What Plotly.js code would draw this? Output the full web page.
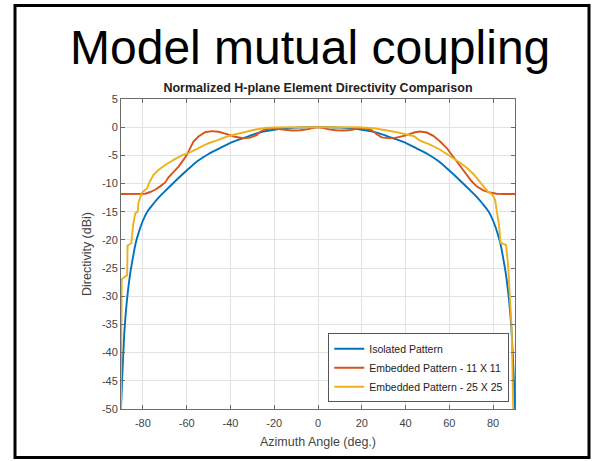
<!DOCTYPE html>
<html>
<head>
<meta charset="utf-8">
<script src="https://cdn.plot.ly/plotly-3.0.1.min.js"></script>
<style>
  html, body { margin: 0; padding: 0; background: #ffffff; }
  #chart { width: 595px; height: 461px; }
</style>
</head>
<body>
<div id="chart"></div>
<script>
// ---- Data ----
var seriesNames = ["Isolated Pattern", "Embedded Pattern - 11 X 11", "Embedded Pattern - 25 X 25"];

var angleIsolated = [-90, -89.5, -89, -88.4, -87.6, -86.8, -85.8, -84.5, -83.3, -82, -80, -78, -75, -73, -70, -65, -60, -55, -50, -45, -40, -35, -30, -25, -20, -15, -10, -5, 0,
                     5, 10, 15, 20, 25, 30, 35, 40, 45, 50, 55, 60, 65, 70, 73, 75, 78, 80, 82, 83.3, 84.5, 85.8, 86.8, 87.6, 88.4, 89, 89.5, 90];
var dBiIsolated   = [-50, -45, -40.5, -36, -32, -29, -26, -23, -20.6, -18.8, -16.6, -15.0, -13.5, -12.6, -11.4, -9.5, -7.7, -6.0, -4.75, -3.75, -2.8, -2.05, -1.35, -0.8, -0.45, -0.2, -0.08, -0.02, 0,
                     -0.02, -0.08, -0.2, -0.45, -0.8, -1.35, -2.05, -2.8, -3.75, -4.75, -6.0, -7.7, -9.5, -11.4, -12.6, -13.5, -15.0, -16.6, -18.8, -20.6, -23, -26, -29, -32, -36, -40.5, -45, -50];

var angle11 = [-90, -85, -80, -78.9, -76.7, -74.4, -72.1, -69.8, -68.3, -66.0, -63.7, -61.5, -59.9, -58.4, -56.9, -54.6, -51.6, -48.5, -45.5, -42.4, -38, -34.1, -31, -28, -26.4, -24.2, -21, -18, -15, -12, -8, -5, -2, 0,
               2, 5, 8, 12, 15, 18.5, 21, 24.6, 27, 29.1, 32, 35.2, 39.8, 44.3, 46.6, 49.7, 52.7, 55.8, 58.8, 61.1, 63.4, 65.7, 67.9, 70.2, 72.5, 75.5, 78.6, 81.6, 85, 90];
var dBi11   = [-11.85, -11.85, -11.85, -11.8, -11.5, -11.1, -10.5, -9.8, -8.9, -8.0, -7.0, -5.8, -4.9, -3.7, -2.55, -1.66, -0.9, -0.7, -0.82, -1.15, -1.7, -1.95, -1.85, -1.4, -0.8, -0.4, -0.2, -0.35, -0.5, -0.6, -0.55, -0.4, -0.1, 0,
               -0.1, -0.4, -0.55, -0.6, -0.5, -0.2, -0.15, -0.55, -1.3, -1.8, -1.95, -1.9, -1.5, -0.9, -0.78, -0.95, -1.54, -2.55, -3.7, -4.9, -6.1, -7.3, -8.46, -9.6, -10.5, -11.2, -11.6, -11.8, -11.85, -11.85];

var angle25 = [-90, -89.7, -88.2, -87.2, -87.0, -85.3, -84.5, -83.5, -82.4, -82, -80.6, -79, -78, -77, -75.2, -72.9, -69.8, -66, -62.2, -59.2, -54.6, -50, -45.5, -42.4, -38, -33.4, -29, -24.3, -20, -12, 0,
               12, 18, 25.7, 30, 34.8, 40, 43.9, 46.6, 51, 55.8, 58.8, 61.8, 64.9, 67.9, 71, 73.2, 75.5, 77.5, 79.5, 80.9, 81.8, 82.6, 83.4, 85.9, 86.9, 87.7, 88.5, 89.2];
var dBi25   = [-50, -27, -26.5, -26.3, -21, -20.6, -17.5, -15.3, -15, -13.4, -11.7, -11.2, -10.8, -9.8, -8.5, -7.6, -6.7, -5.8, -5.0, -4.6, -3.7, -2.85, -2.25, -1.75, -1.3, -0.83, -0.45, -0.15, -0.05, 0, 0,
               0, -0.02, -0.2, -0.45, -0.8, -1.25, -1.6, -2.4, -3.05, -4.0, -4.7, -5.5, -6.3, -7.2, -8.3, -9.4, -10.6, -11.4, -11.9, -12.9, -15.2, -17, -20.5, -20.9, -24.7, -30, -36, -50];

var xTickVals = [-80, -60, -40, -20, 0, 20, 40, 60, 80];
var yTickVals = [5, 0, -5, -10, -15, -20, -25, -30, -35, -40, -45, -50];

// ---- Styling ----
var FONT = '"Liberation Sans", Arial, Helvetica, sans-serif';
var colors = ['#0072BD', '#D95319', '#EDB120'];

var traces = [
  {x: angleIsolated, y: dBiIsolated, name: seriesNames[0]},
  {x: angle11, y: dBi11, name: seriesNames[1]},
  {x: angle25, y: dBi25, name: seriesNames[2]}
].map(function (t, i) {
  t.type = 'scatter';
  t.mode = 'lines';
  t.line = {color: colors[i], width: 1.9};
  if (i === 0) { t.line.shape = 'spline'; t.line.smoothing = 0.8; }
  return t;
});

var axisCommon = {
  showline: true, linecolor: '#6b6b6b', linewidth: 1, mirror: 'allticks',
  ticks: 'inside', ticklen: 4, tickcolor: '#6b6b6b', tickwidth: 1,
  showgrid: true, gridcolor: '#e3e3e3', gridwidth: 1, zeroline: false,
  tickfont: {family: FONT, size: 11, color: '#444444'}
};

var layout = {
  width: 595, height: 461, autosize: false,
  paper_bgcolor: '#ffffff', plot_bgcolor: '#ffffff',
  margin: {l: 121, r: 80, t: 99, b: 52, pad: 0},
  showlegend: true,
  title: {
    text: '<b>Normalized H-plane Element Directivity Comparison</b>',
    font: {family: FONT, size: 12.5, color: '#222222'},
    x: 0.5, xref: 'paper', xanchor: 'center',
    y: 1 - 88 / 461, yref: 'container', yanchor: 'middle'
  },
  xaxis: Object.assign({}, axisCommon, {
    range: [-90, 90], tickvals: xTickVals, ticktext: xTickVals.map(String),
    ticklabelstandoff: 4,
    title: {text: 'Azimuth Angle (deg.)', font: {family: FONT, size: 12.5, color: '#444444'}, standoff: 9}
  }),
  yaxis: Object.assign({}, axisCommon, {
    range: [-50, 5], tickvals: yTickVals, ticktext: yTickVals.map(String),
    title: {text: 'Directivity (dBi)', font: {family: FONT, size: 12.5, color: '#444444'}, standoff: 7}
  }),
  legend: {
    x: 0.526, y: 0.022, xanchor: 'left', yanchor: 'bottom',
    bgcolor: '#ffffff', bordercolor: '#555555', borderwidth: 1,
    font: {family: FONT, size: 10.5, color: '#222222'},
    tracegroupgap: 0, itemwidth: 30
  },
  annotations: [{
    text: 'Model mutual coupling',
    xref: 'paper', yref: 'paper',
    x: (310 - 121) / 394, y: (409 - 48) / 310,
    xanchor: 'center', yanchor: 'middle',
    showarrow: false,
    font: {family: FONT, size: 48, color: '#000000'}
  }],
  shapes: [{
    type: 'rect', xref: 'paper', yref: 'paper',
    x0: (15 - 121) / 394, x1: (589 - 121) / 394,
    y0: (409 - 457.5) / 310, y1: (409 - 5.5) / 310,
    line: {color: '#000000', width: 3}, fillcolor: 'rgba(0,0,0,0)', layer: 'above'
  }]
};

Plotly.newPlot('chart', traces, layout, {displayModeBar: false, staticPlot: true});
</script>
</body>
</html>
